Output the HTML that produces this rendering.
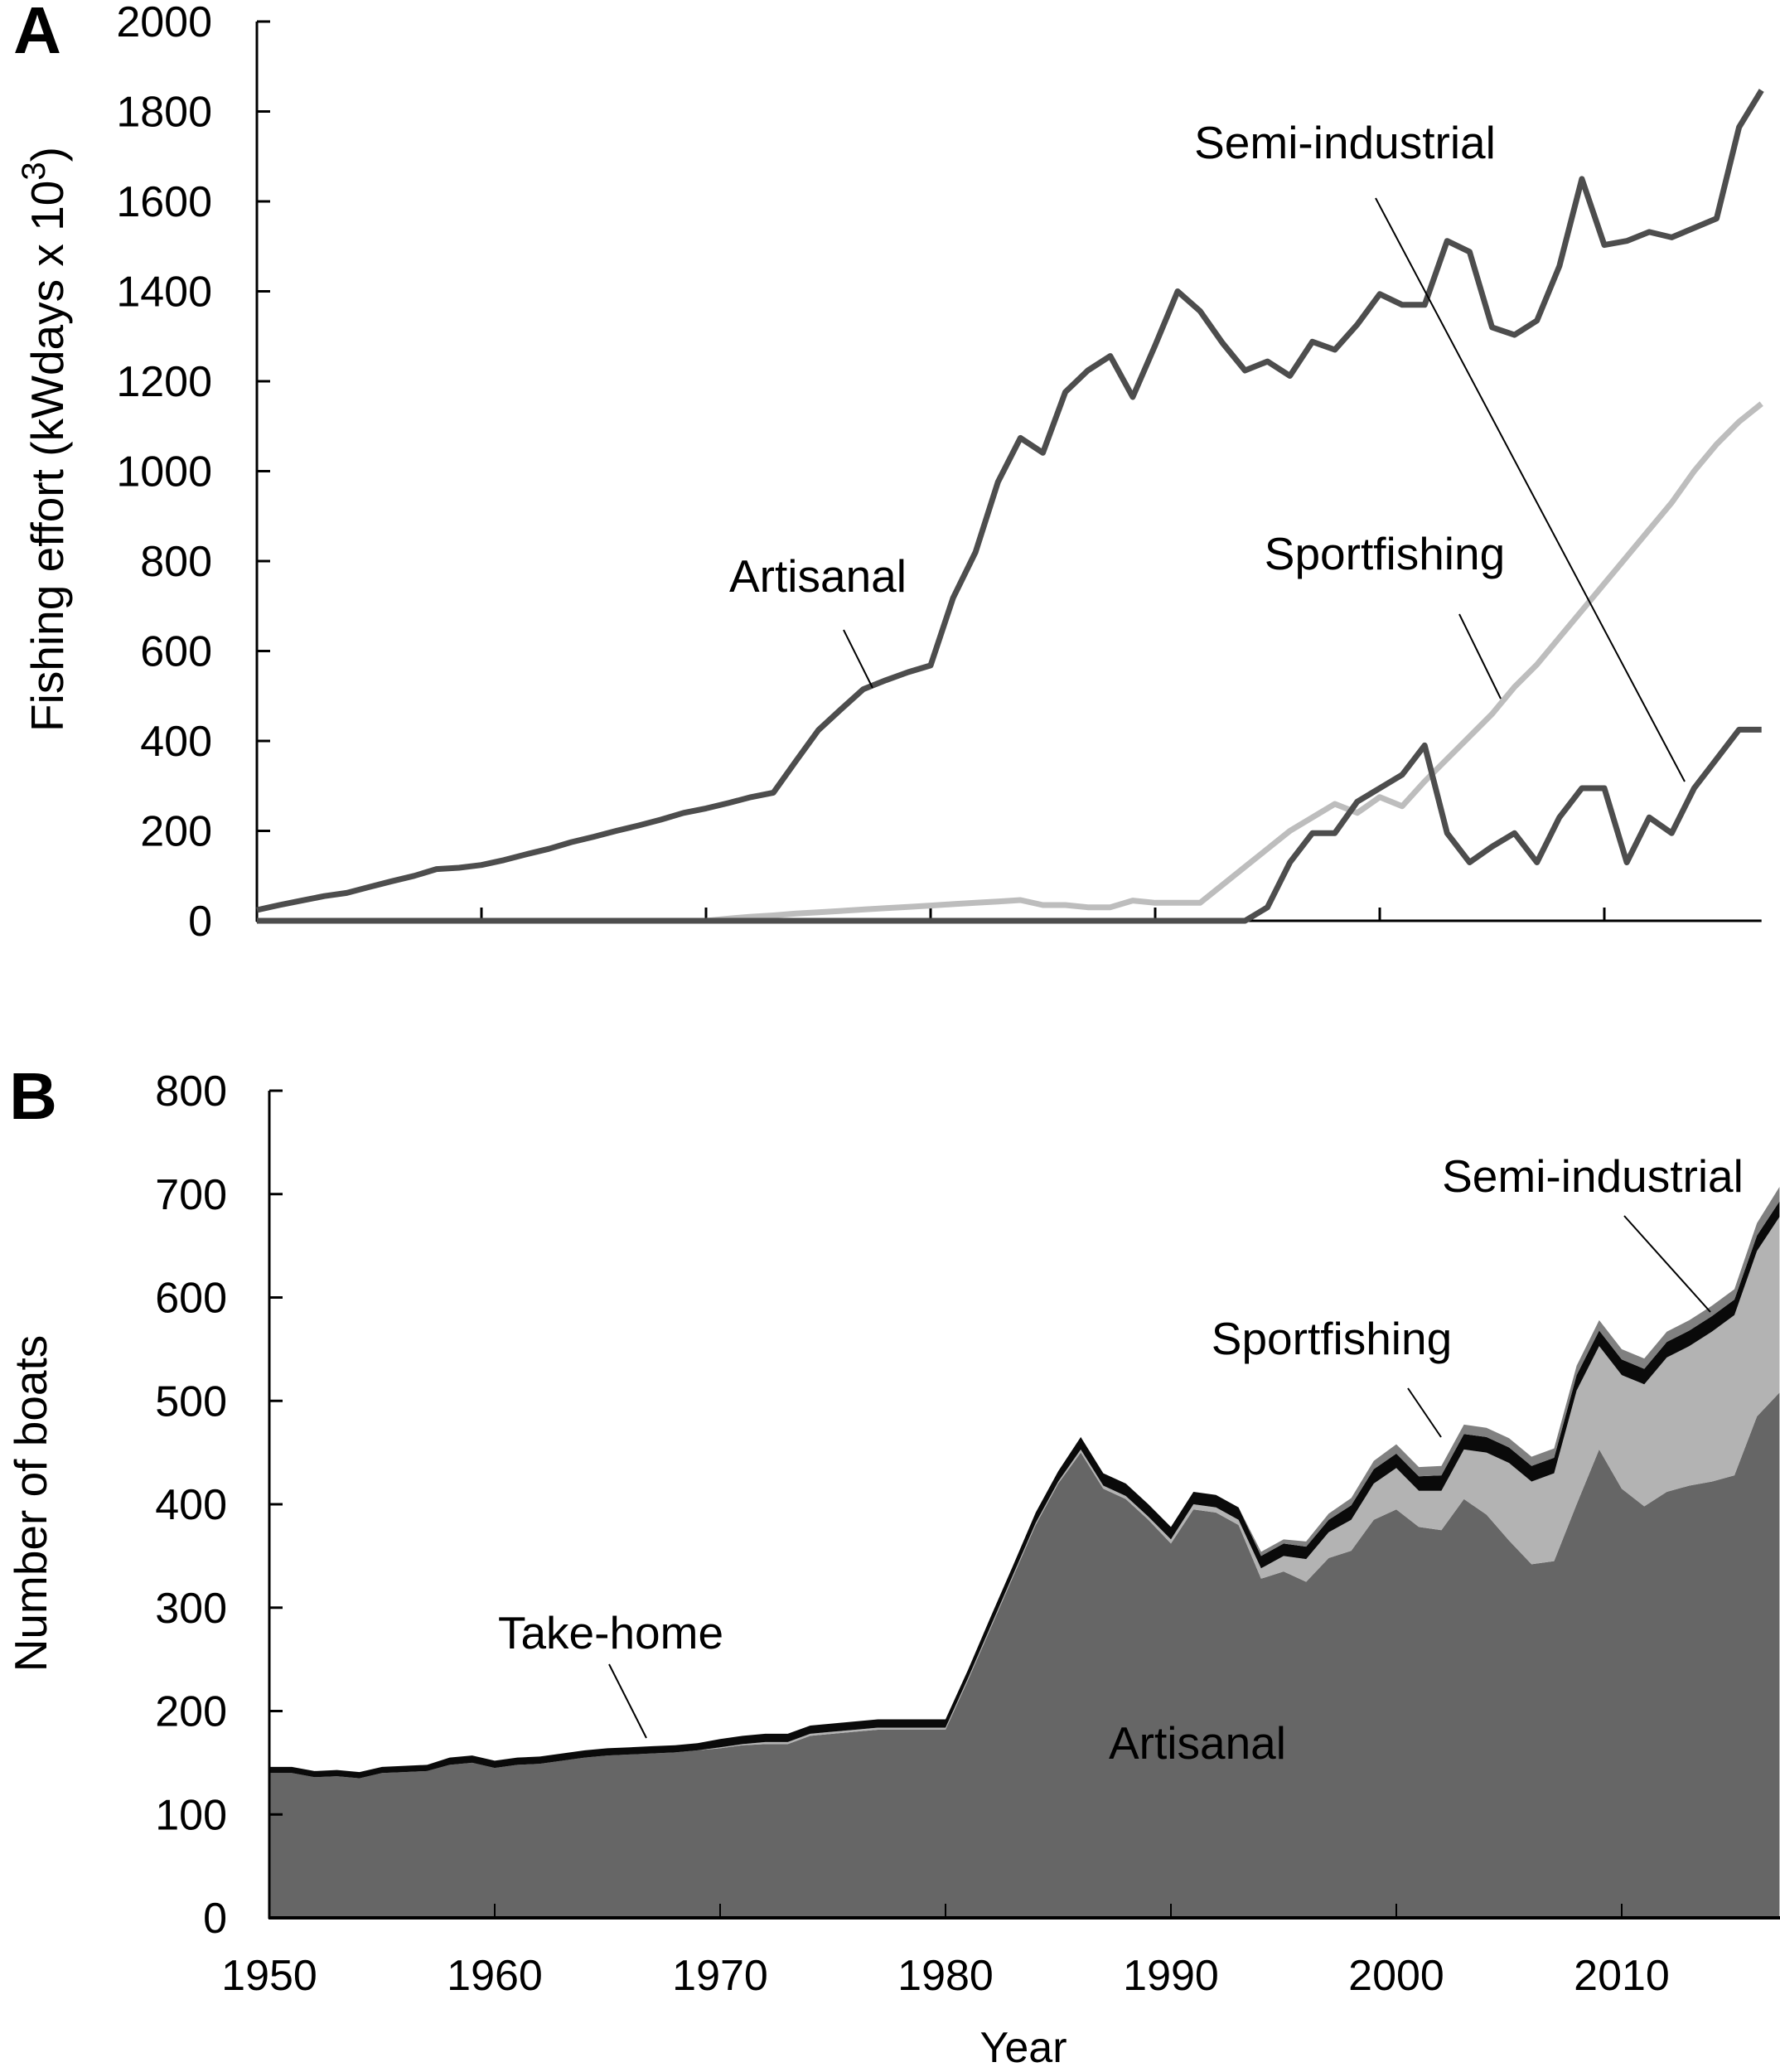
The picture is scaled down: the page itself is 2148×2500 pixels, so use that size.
<!DOCTYPE html>
<html><head><meta charset="utf-8"><style>
html,body{margin:0;padding:0;background:#fff}
svg{display:block}
.tick{font-family:"Liberation Sans Narrow","Liberation Sans",sans-serif;font-size:52px;fill:#000}
.ann{font-family:"Liberation Sans",sans-serif;font-size:55px;fill:#000}
</style></head><body>
<svg id="fig" width="2148" height="2500" viewBox="0 0 2148 2500" xmlns="http://www.w3.org/2000/svg">
<g id="gA"></g>
<g id="gB"></g>
</svg>
<script>
const years = [];
for (let y = 1950; y <= 2017; y++) years.push(y);
// Panel A: fishing effort (kWdays x 10^3)
const artisanalEffort = [24,35,45,55,62,75,88,100,115,118,124,135,148,160,175,187,200,212,225,240,250,262,275,285,355,424,470,515,535,553,568,718,820,976,1074,1041,1176,1224,1256,1165,1280,1400,1356,1285,1224,1244,1212,1288,1270,1326,1394,1370,1370,1512,1488,1320,1303,1335,1456,1650,1503,1512,1532,1520,1541,1562,1765,1847];
const sportEffort = [0,0,0,0,0,0,0,0,0,0,0,0,0,0,0,0,0,0,0,0,0,5,9,12,16,19,22,25,28,31,34,37,40,43,46,35,35,30,30,45,40,40,40,80,120,160,200,230,260,240,275,255,310,360,410,460,520,570,630,690,750,810,870,930,1000,1060,1110,1150];
const semiEffort = [0,0,0,0,0,0,0,0,0,0,0,0,0,0,0,0,0,0,0,0,0,0,0,0,0,0,0,0,0,0,0,0,0,0,0,0,0,0,0,0,0,0,0,0,0,30,130,195,195,265,295,325,390,195,130,165,195,130,230,295,295,130,230,195,295,360,425,425];
const ticksA = [0,200,400,600,800,1000,1200,1400,1600,1800,2000];
// Panel B: number of boats (stacked)
const artisanalBoats = [140,140,136,137,135,140,141,142,148,150,145,148,149,152,155,157,158,159,160,162,164,167,168,168,176,178,180,182,182,182,182,230,280,330,380,420,450,415,405,385,362,395,392,380,328,335,325,348,355,385,395,378,375,405,390,365,342,345,400,453,415,398,412,418,422,428,485,508];
const sportBoats = [0,0,0,0,0,0,0,0,0,0,0,0,0,0,0,0,0,0,0,0,1,1,2,2,2,2,2,2,2,2,2,2,2,2,2,2,3,3,3,3,4,5,5,5,10,15,22,25,30,35,40,35,38,48,60,75,80,85,110,100,110,118,130,135,145,155,160,170];
const takeHomeBoats = [6,6,6,6,6,6,6,6,7,7,7,7,7,7,7,7,7,7,7,7,8,8,8,8,8,8,8,8,8,8,8,8,9,9,10,10,12,12,12,12,12,12,12,12,12,12,12,12,14,14,14,14,15,15,15,15,15,15,15,15,15,15,15,15,15,15,15,15];
const semiBoats = [0,0,0,0,0,0,0,0,0,0,0,0,0,0,0,0,0,0,0,0,0,0,0,0,0,0,0,0,0,0,0,0,0,0,0,0,0,0,0,0,0,0,0,0,4,4,5,6,7,8,9,9,9,9,9,9,9,9,9,10,10,10,10,10,10,10,12,14];
const ticksB = [0,100,200,300,400,500,600,700,800];
const tickYears = [1950,1960,1970,1980,1990,2000,2010];

const NS = "http://www.w3.org/2000/svg";
function mk(tag, attrs, parent, text) {
  const e = document.createElementNS(NS, tag);
  for (const k in attrs) e.setAttribute(k, attrs[k]);
  if (text !== undefined) e.textContent = text;
  parent.appendChild(e);
  return e;
}
const xA = yr => 310 + (yr - 1950) * 27.1;
const yA = v => 1111 - v * 0.5425;
const xB = yr => 325 + (yr - 1950) * 27.2;
const yB = v => 2314 - v * 1.2475;

// ---------- Panel A ----------
const gA = document.getElementById('gA');
let t = mk('text', {x: 45, y: 64, 'font-family': 'Liberation Sans,sans-serif', 'font-size': 80, 'font-weight': 'bold', 'text-anchor': 'middle'}, gA, 'A');


t = mk('text', {x: 0, y: 0, class: 'ann', 'font-size': 64, 'text-anchor': 'middle', transform: 'translate(76,530) rotate(-90)'}, gA);


t.innerHTML = 'Fishing effort (kWdays x 10<tspan baseline-shift="super" font-size="40">3</tspan>)';
ticksA.forEach(v => {
  const l = mk('text', {x: 256, y: yA(v) + 18, class: 'tick', 'text-anchor': 'end'}, gA, String(v));
  
  
  const tk = mk('line', {x1: 310, x2: 326, y1: yA(v), y2: yA(v), stroke: '#000', 'stroke-width': 3}, gA);
  
  
});
tickYears.forEach(yr => {
  const tk = mk('line', {x1: xA(yr), x2: xA(yr), y1: 1111, y2: 1095, stroke: '#000', 'stroke-width': 3}, gA);
  
  
});
let ax = mk('line', {x1: 310, x2: 310, y1: yA(2000), y2: 1112, stroke: '#000', 'stroke-width': 3}, gA);


ax = mk('line', {x1: 309, x2: xA(2017), y1: 1111, y2: 1111, stroke: '#000', 'stroke-width': 3}, gA);


function linePath(arr) { return arr.map((v, i) => (i ? 'L' : 'M') + xA(years[i]).toFixed(1) + ',' + yA(v).toFixed(1)).join(''); }
let p = mk('path', {d: linePath(sportEffort), fill: 'none', stroke: '#bdbdbd', 'stroke-width': 7, 'stroke-linejoin': 'round'}, gA);


p = mk('path', {d: linePath(semiEffort), fill: 'none', stroke: '#4d4d4d', 'stroke-width': 7, 'stroke-linejoin': 'round'}, gA);


p = mk('path', {d: linePath(artisanalEffort), fill: 'none', stroke: '#4d4d4d', 'stroke-width': 7, 'stroke-linejoin': 'round'}, gA);


function ann(g, name, txt, x, y, lx1, ly1, lx2, ly2) {
  const a = mk('text', {x: x, y: y + 19, class: 'ann', 'text-anchor': 'middle'}, g, txt);
  
  
  const l = mk('line', {x1: lx1, y1: ly1, x2: lx2, y2: ly2, stroke: '#000', 'stroke-width': 2}, g);
  
  
}
ann(gA, 'artisanal-a', 'Artisanal', 987, 695, 1018, 760, 1053, 830);
ann(gA, 'semi-industrial-a', 'Semi-industrial', 1623, 172, 1660, 239, 2033, 943);
ann(gA, 'sportfishing-a', 'Sportfishing', 1671, 668, 1761, 741, 1811, 843);

// ---------- Panel B ----------
const gB = document.getElementById('gB');
t = mk('text', {x: 40, y: 1350, 'font-family': 'Liberation Sans,sans-serif', 'font-size': 80, 'font-weight': 'bold', 'text-anchor': 'middle'}, gB, 'B');


t = mk('text', {x: 0, y: 0, class: 'ann', 'font-size': 66, 'text-anchor': 'middle', transform: 'translate(56,1814) rotate(-90)'}, gB, 'Number of boats');


const layers = [
  {name: 'artisanal-area', arr: artisanalBoats, fill: '#666666'},
  {name: 'sportfishing-area', arr: sportBoats, fill: '#b3b3b3'},
  {name: 'take-home-area', arr: takeHomeBoats, fill: '#0a0a0a'},
  {name: 'semi-industrial-area', arr: semiBoats, fill: '#808080'}
];
let base = years.map(() => 0);
layers.forEach(L => {
  const top = base.map((b, i) => b + L.arr[i]);
  let d = top.map((v, i) => (i ? 'L' : 'M') + xB(years[i]).toFixed(1) + ',' + yB(v).toFixed(1)).join('');
  for (let i = years.length - 1; i >= 0; i--) d += 'L' + xB(years[i]).toFixed(1) + ',' + yB(base[i]).toFixed(1);
  d += 'Z';
  const a = mk('path', {d: d, fill: L.fill, stroke: 'none'}, gB);
  
  
  base = top;
});
ticksB.forEach(v => {
  const l = mk('text', {x: 274, y: yB(v) + 18, class: 'tick', 'text-anchor': 'end'}, gB, String(v));
  
  
  const tk = mk('line', {x1: 325, x2: 341, y1: yB(v), y2: yB(v), stroke: '#000', 'stroke-width': 3}, gB);
  
  
});
tickYears.forEach(yr => {
  const tk = mk('line', {x1: xB(yr), x2: xB(yr), y1: 2314, y2: 2297, stroke: '#000', 'stroke-width': 2}, gB);
  
  
  const l = mk('text', {x: xB(yr), y: 2401, class: 'tick', 'text-anchor': 'middle'}, gB, String(yr));
  
  
});
ax = mk('line', {x1: 325, x2: 325, y1: yB(800), y2: 2315, stroke: '#000', 'stroke-width': 3}, gB);


ax = mk('line', {x1: 324, x2: 2148, y1: 2314, y2: 2314, stroke: '#000', 'stroke-width': 4}, gB);


t = mk('text', {x: 1235, y: 2488, class: 'tick', 'font-size': 58, 'text-anchor': 'middle'}, gB, 'Year');


ann(gB, 'semi-industrial-b', 'Semi-industrial', 1922, 1419, 1960, 1467, 2064, 1583);
ann(gB, 'sportfishing-b', 'Sportfishing', 1607, 1615, 1699, 1675, 1739, 1734);
ann(gB, 'take-home-b', 'Take-home', 737, 1970, 735, 2008, 780, 2097);
const art = mk('text', {x: 1445, y: 2122, class: 'ann', 'text-anchor': 'middle'}, gB, 'Artisanal');


</script>
</body></html>
